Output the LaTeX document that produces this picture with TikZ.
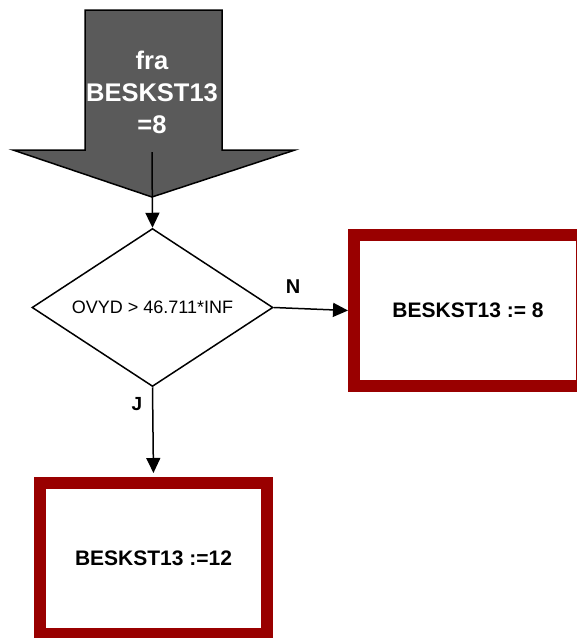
\documentclass[tikz,border=0pt]{standalone}
\usepackage{fontspec}
\setmainfont{Liberation Sans}
\usetikzlibrary{arrows.meta,shapes.geometric}
\definecolor{boxred}{HTML}{990000}
\definecolor{arrowgray}{HTML}{5A5A5A}
\tikzset{
  conn/.style={line width=1.5pt,-{Triangle[width=14pt,length=15pt]}},
  decision/.style={diamond,aspect=1.525,draw,line width=1.5pt,inner sep=0pt,minimum width=241pt,minimum height=158pt,font=\fontsize{18}{22}\selectfont},
  resultbox/.style={rectangle,draw=boxred,line width=12pt,fill=white,minimum width=228pt,minimum height=151pt,font=\bfseries\fontsize{21}{25}\selectfont},
  lbl/.style={font=\bfseries\fontsize{20}{24}\selectfont},
}
\begin{document}
\begin{tikzpicture}[x=1pt,y=-1pt]
\useasboundingbox (0,0) rectangle (577,638);
% big incoming arrow
\draw[fill=arrowgray,line width=1.5pt,line join=miter]
  (85,10) -- (222,10) -- (222,150) -- (295,150) -- (152,197) -- (13,150) -- (85,150) -- cycle;
\node[text=white,align=center,font=\bfseries\fontsize{25.5}{32}\selectfont] (src) at (152,92) {fra\\BESKST13\\=8};
\coordinate (start) at (152,152);
% decision
\node[decision] (dec) at (152.5,307.5) {OVYD > 46.711*INF};
% result boxes
\node[resultbox] (boxN) at (468,310.5) {BESKST13 := 8};
\node[resultbox,minimum width=227pt] (boxJ) at (153.5,558.5) {BESKST13 :=12};
% connectors
\draw[conn] (start) -- (dec.north);
\draw[conn] (dec.east) -- (boxN.west);
\draw[conn,shorten >=4pt] (dec.south) -- (boxJ.north);
% labels
\node[lbl] (lN) at (293,287) {N};
\node[lbl,font=\bfseries\fontsize{19}{23}\selectfont] (lJ) at (137,404.5) {J};
\end{tikzpicture}
\end{document}
